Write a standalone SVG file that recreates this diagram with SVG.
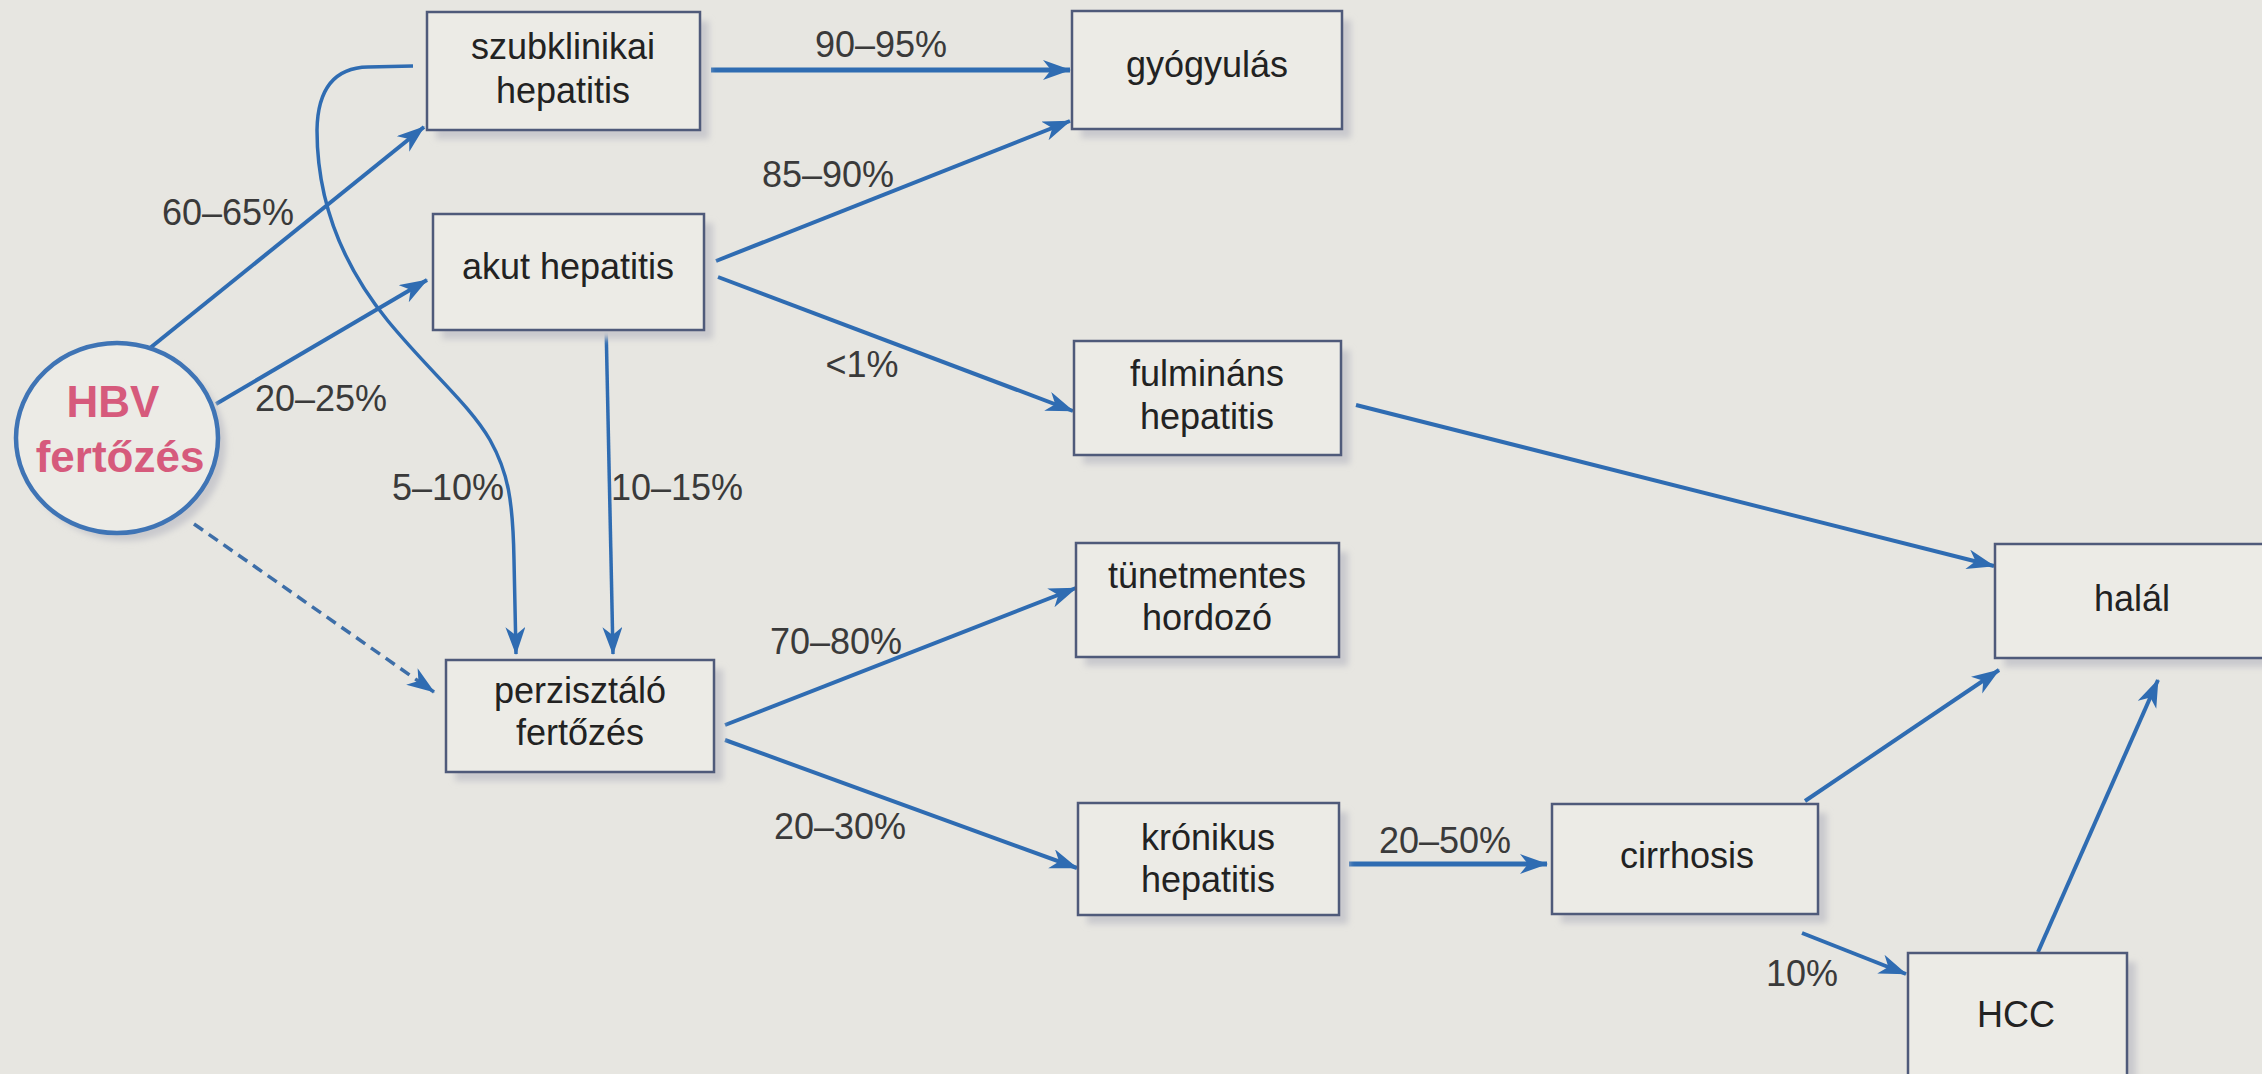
<svg xmlns="http://www.w3.org/2000/svg" width="2262" height="1074" viewBox="0 0 2262 1074">
<defs>
<style>
.box{fill:#ecebe6;stroke:#4f5a7a;stroke-width:2.5}
.shadow{fill:#c9c9cd;filter:url(#blur)}
.t{font-family:"Liberation Sans",Arial,sans-serif;font-size:36px;fill:#222;text-anchor:middle}
.lbl{font-family:"Liberation Sans",Arial,sans-serif;font-size:36px;fill:#3a3a3a;text-anchor:middle}
.c{fill:none;stroke:#2f6cb2;stroke-width:4;marker-end:url(#ah)}
.h{stroke-width:5}
.d{stroke-dasharray:11 7;stroke-width:3.5;stroke:#3d6ea8}
</style>
<filter id="blur" x="-10%" y="-10%" width="120%" height="120%"><feGaussianBlur stdDeviation="3"/></filter>
<marker id="ah" markerUnits="userSpaceOnUse" markerWidth="30" markerHeight="22" refX="27" refY="10" orient="auto">
<path d="M0,0 L28,10 L0,20 L8,10 z" fill="#2f6cb2"/>
</marker>
</defs>
<rect width="2262" height="1074" fill="#e7e6e1"/>

<g id="connectors">
<path class="c" d="M150,348 L424,127"/>
<path class="c" d="M216,404 L427,280"/>
<path class="c" style="stroke-width:3.5" d="M413,66 L368,67 Q318,68 317,130 C317,180 330,250 388,321 C430,372 470,405 490,440 C508,472 513,500 514,560 L516,654"/>
<path class="c" style="stroke-width:3.5" d="M606,322 L613,654"/>
<path class="c d" d="M194,524 L434,692"/>
<path class="c h" d="M711,70 L1070,70"/>
<path class="c" d="M716,261 L1070,121"/>
<path class="c" d="M718,277 L1073,411"/>
<path class="c" d="M1356,405 L1994,566"/>
<path class="c" d="M725,725 L1076,588"/>
<path class="c" d="M725,740 L1077,868"/>
<path class="c h" d="M1349,864 L1547,864"/>
<path class="c" d="M1805,801 L1999,670"/>
<path class="c" d="M1802,933 L1906,974"/>
<path class="c" d="M2038,952 L2158,680"/>
</g>

<g id="labels">
<text class="lbl" x="228" y="225">60–65%</text>
<text class="lbl" x="321" y="411">20–25%</text>
<text class="lbl" x="448" y="500">5–10%</text>
<text class="lbl" x="677" y="500">10–15%</text>
<text class="lbl" x="881" y="57">90–95%</text>
<text class="lbl" x="828" y="187">85–90%</text>
<text class="lbl" x="862" y="377">&lt;1%</text>
<text class="lbl" x="836" y="654">70–80%</text>
<text class="lbl" x="840" y="839">20–30%</text>
<text class="lbl" x="1445" y="853">20–50%</text>
<text class="lbl" x="1802" y="986">10%</text>
</g>

<g id="hbv">
<ellipse cx="125" cy="446" rx="101" ry="95" fill="#c9c9cd" filter="url(#blur)"/>
<ellipse cx="117" cy="438" rx="101" ry="95" fill="#ecebe6" stroke="#3f74b5" stroke-width="4.5"/>
<text x="113" y="417" text-anchor="middle" style="font-family:'Liberation Sans',Arial,sans-serif;font-size:44px;font-weight:bold;fill:#d65a7c">HBV</text>
<text x="120" y="472" text-anchor="middle" style="font-family:'Liberation Sans',Arial,sans-serif;font-size:44px;font-weight:bold;fill:#d65a7c">fertőzés</text>
</g>

<g id="szubklinikai">
<rect class="shadow" x="436" y="21" width="273" height="118"/>
<rect class="box" x="427" y="12" width="273" height="118"/>
<text class="t" x="563" y="59">szubklinikai</text>
<text class="t" x="563" y="103">hepatitis</text>
</g>

<g id="akut">
<rect class="shadow" x="442" y="223" width="271" height="116"/>
<rect class="box" x="433" y="214" width="271" height="116"/>
<text class="t" x="568" y="279">akut hepatitis</text>
</g>

<g id="gyogyulas">
<rect class="shadow" x="1081" y="20" width="270" height="118"/>
<rect class="box" x="1072" y="11" width="270" height="118"/>
<text class="t" x="1207" y="77">gyógyulás</text>
</g>

<g id="fulminans">
<rect class="shadow" x="1083" y="350" width="267" height="114"/>
<rect class="box" x="1074" y="341" width="267" height="114"/>
<text class="t" x="1207" y="386">fulmináns</text>
<text class="t" x="1207" y="429">hepatitis</text>
</g>

<g id="tunetmentes">
<rect class="shadow" x="1085" y="552" width="263" height="114"/>
<rect class="box" x="1076" y="543" width="263" height="114"/>
<text class="t" x="1207" y="588">tünetmentes</text>
<text class="t" x="1207" y="630">hordozó</text>
</g>

<g id="perzisztalo">
<rect class="shadow" x="455" y="669" width="268" height="112"/>
<rect class="box" x="446" y="660" width="268" height="112"/>
<text class="t" x="580" y="703">perzisztáló</text>
<text class="t" x="580" y="745">fertőzés</text>
</g>

<g id="kronikus">
<rect class="shadow" x="1087" y="812" width="261" height="112"/>
<rect class="box" x="1078" y="803" width="261" height="112"/>
<text class="t" x="1208" y="850">krónikus</text>
<text class="t" x="1208" y="892">hepatitis</text>
</g>

<g id="cirrhosis">
<rect class="shadow" x="1561" y="813" width="266" height="110"/>
<rect class="box" x="1552" y="804" width="266" height="110"/>
<text class="t" x="1687" y="868">cirrhosis</text>
</g>

<g id="halal">
<rect class="shadow" x="2004" y="553" width="280" height="114"/>
<rect class="box" x="1995" y="544" width="280" height="114"/>
<text class="t" x="2132" y="611">halál</text>
</g>

<g id="hcc">
<rect class="shadow" x="1917" y="962" width="219" height="130"/>
<rect class="box" x="1908" y="953" width="219" height="130"/>
<text class="t" x="2016" y="1027">HCC</text>
</g>
</svg>
